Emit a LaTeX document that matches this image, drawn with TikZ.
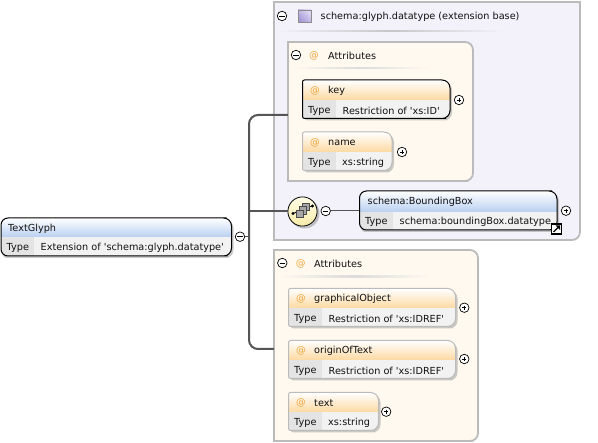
\documentclass[tikz,border=0pt]{standalone}
\usepackage{fontspec}
\setmainfont{DejaVu Sans}[Ligatures=TeXOff]
\usetikzlibrary{calc}
\definecolor{grpborder}{HTML}{BBBBBB}
\definecolor{extfill}{HTML}{F3F1FA}
\definecolor{attfill}{HTML}{FFF9F0}
\definecolor{orangehead}{HTML}{FDD9A2}
\definecolor{bluehead}{HTML}{B9D0F1}
\definecolor{typecell}{HTML}{E4E4E4}
\definecolor{linkgray}{HTML}{555555}
\definecolor{atsign}{HTML}{EFA53A}
\definecolor{txt}{HTML}{111111}
\definecolor{seqtop}{HTML}{FFFDE6}
\definecolor{seqbot}{HTML}{F7EBA8}
\definecolor{icontop}{HTML}{DDD7F2}
\definecolor{iconbot}{HTML}{A597D6}
\tikzset{
  lbl/.style={font=\fontsize{9.7}{12}\selectfont,text=txt,inner sep=0pt,anchor=west,yshift=-1pt},
  atmark/.style={font=\fontsize{9.7}{12}\selectfont,text=atsign,inner sep=0pt,yshift=-.5pt},
  conn/.style={draw=linkgray,line width=2pt,rounded corners=9pt},
  thinconn/.style={draw=linkgray,line width=1pt},
  togglebox/.style={circle,draw=black,fill=white,line width=.7pt,minimum size=9.5pt,inner sep=0pt},
  groupbox/.style={draw=grpborder,line width=1.8pt},
  anchorbox/.style={inner sep=0pt,minimum size=0pt}
}
\newcommand{\minusbtn}[3]{%
  \node[togglebox] (#1) at (#2,#3) {};
  \draw[black,line width=.7pt] ($(#1)+(-2.6,0)$) -- ($(#1)+(2.6,0)$);}
\newcommand{\plusbtn}[3]{%
  \node[togglebox] (#1) at (#2,#3) {};
  \draw[black,line width=.7pt] ($(#1)+(-2,0)$) -- ($(#1)+(2,0)$) ($(#1)+(0,-2)$) -- ($(#1)+(0,2)$);}
\newcommand{\boxpath}[5]{[rounded corners=#5] (#1,{(#3+#4)/2}) -- (#1,#3) -- ({#2-12},#3) [rounded corners=8] -- (#2,#3) -- (#2,#4) -- ({#2-12},#4) [rounded corners=#5] -- (#1,#4) -- cycle}
\newcommand{\compbox}[9]{%
  \fill[black!45,opacity=.45] \boxpath{#2+2}{#3+2}{#4+2}{#6+2}{3};
  \begin{scope}
    \clip \boxpath{#2}{#3}{#4}{#6}{\leftr};
    \shade[top color=white,bottom color=#8] (#2,#4) rectangle (#3,#5);
    \fill[white!95!black] (#2,#5) rectangle (#3,#6);
    \fill[typecell] (#2,#5) rectangle (#7,#6);
  \end{scope}
  \draw[#9,line width=1pt] \boxpath{#2}{#3}{#4}{#6}{\leftr};
  \node[anchorbox,minimum width={(#3-(#2))*1pt},minimum height={(#6-(#4))*1pt}] (#1) at ({(#2+#3)/2},{(#4+#6)/2}) {};
}
\def\leftr{2}
\begin{document}
\begin{tikzpicture}[x=1pt,y=-1pt]
\useasboundingbox[fill=white] (0,0) rectangle (598,443);
% extension group
\draw[groupbox,fill=extfill] (274,2) -- (580,2) -- (580,{232}) [rounded corners=8] -- (580,240) -- (560,240) [sharp corners] -- (274,240) -- cycle;
\node[anchorbox,minimum width=306pt,minimum height=238pt] (extgroup) at (427,121) {};
\shade[left color=extfill,right color=extfill,middle color=black!22] (276,30.4) rectangle (505,32);
\minusbtn{extminus}{282}{16}
\fill[iconbot] (298,10) rectangle (311,22.5);
\shade[top color=icontop,bottom color=iconbot,draw=black!45,line width=.6pt,shading angle=-45] (298,10) rectangle (311,22.5);
\node[anchorbox,minimum size=12pt] (exticon) at (304.5,16.2) {};
\node[lbl] (exttitle) at (320.5,16) {schema:glyph.datatype (extension base)};
% attributes group 1
\draw[groupbox,fill=attfill] (288,42) -- (460,42) [rounded corners=8] -- (473,42) -- (473,181) -- (460,181) [sharp corners] -- (288,181) -- cycle;
\node[anchorbox,minimum width=185pt,minimum height=139pt] (attgroupa) at (380.5,111.5) {};
\shade[left color=attfill,right color=attfill,middle color=black!14] (291,67.5) rectangle (430,69);
\minusbtn{attaminus}{296}{55}
\node[atmark] (attaat) at (314,55.5) {@};
\node[lbl] (attatitle) at (328,55) {Attributes};
% key
\compbox{key}{302.5}{450}{80}{100}{118.5}{336}{orangehead}{black}
\node[atmark] (keyat) at (315,90.5) {@};
\node[lbl] (keyname) at (328,90) {key};
\node[lbl] (keytype) at (308,110) {Type};
\node[lbl] (keyval) at (342.5,110) {Restriction of 'xs:ID'};
\plusbtn{keyplus}{459}{100}
% name
\compbox{nameb}{302.5}{392}{132}{152}{170.5}{336}{orangehead}{grpborder}
\node[atmark] (nameat) at (315,142.5) {@};
\node[lbl] (namename) at (328,142) {name};
\node[lbl] (nametype) at (308,162) {Type};
\node[lbl] (nameval) at (342,162) {xs:string};
\plusbtn{nameplus}{402}{152}
% sequence compositor
\fill[black!45,opacity=.5] (304.5,213.5) circle (15);
\shade[top color=seqtop,bottom color=seqbot,draw=black,line width=.8pt] (302.5,211.5) circle (14.6);
\node[anchorbox,minimum size=29pt,circle] (seq) at (302.5,211.5) {};
\draw[black,line width=.8pt] (293,213.5) -- (312,206);
\fill[black] (293,213.5) circle (1.6) (312.5,206) circle (1.6);
\draw[draw=black!70,fill=black!35,line width=.6pt] (302,203) rectangle (309.5,210.5);
\draw[draw=black!70,fill=black!35,line width=.6pt] (299,206.5) rectangle (306.5,214);
\draw[draw=black!70,fill=black!35,line width=.6pt] (296,210) rectangle (303.5,217.5);
\minusbtn{seqminus}{325.7}{211}
% bounding box
\def\leftr{7}
\compbox{bbox}{359.5}{557}{191}{212}{230}{393}{bluehead}{black}
\def\leftr{2}
\node[lbl] (bboxname) at (367.5,201) {schema:BoundingBox};
\node[lbl] (bboxtype) at (365,221) {Type};
\node[lbl] (bboxval) at (399.5,221) {schema:boundingBox.datatype};
\plusbtn{bboxplus}{566}{210.7}
\node[draw=black,fill=white,line width=1.1pt,minimum size=10pt,inner sep=0pt] (bboxlink) at (556.5,229) {};
\draw[black,line width=1.4pt] (553.5,232) -- (558.5,227);
\fill[black] (555.5,225.5) -- (560,225.5) -- (560,230) -- cycle;
% attributes group 2
\draw[groupbox,fill=attfill] (274,250) -- (465,250) [rounded corners=8] -- (478,250) -- (478,441) -- (465,441) [sharp corners] -- (274,441) -- cycle;
\node[anchorbox,minimum width=204pt,minimum height=191pt] (attgroupb) at (376,345.5) {};
\shade[left color=attfill,right color=attfill,middle color=black!14] (278,276) rectangle (430,277.5);
\minusbtn{attbminus}{282.3}{263}
\node[atmark] (attbat) at (300.7,263.5) {@};
\node[lbl] (attbtitle) at (314,263) {Attributes};
% graphicalObject
\compbox{gobj}{288.5}{455.5}{288.5}{308}{326.5}{322}{orangehead}{grpborder}
\node[atmark] (gobjat) at (301,298.5) {@};
\node[lbl] (gobjname) at (314,298) {graphicalObject};
\node[lbl] (gobjtype) at (294,318) {Type};
\node[lbl] (gobjval) at (328.5,318) {Restriction of 'xs:IDREF'};
\plusbtn{gobjplus}{464.3}{307.7}
% originOfText
\compbox{orig}{288.5}{455.5}{340.5}{360}{378.5}{322}{orangehead}{grpborder}
\node[atmark] (origat) at (301,350.5) {@};
\node[lbl] (origname) at (314,350) {originOfText};
\node[lbl] (origtype) at (294,370) {Type};
\node[lbl] (origval) at (328.5,370) {Restriction of 'xs:IDREF'};
\plusbtn{origplus}{464.3}{359}
% text
\compbox{textb}{288.5}{378.5}{392.5}{412}{430.5}{322}{orangehead}{grpborder}
\node[atmark] (textat) at (301,402.5) {@};
\node[lbl] (textname) at (314,402) {text};
\node[lbl] (texttype) at (294,422) {Type};
\node[lbl] (textval) at (328,422) {xs:string};
\plusbtn{textplus}{386.2}{411.7}
% root
\def\leftr{7}
\compbox{root}{1}{231.5}{218}{237}{256}{34}{bluehead}{black}
\def\leftr{2}
\node[lbl] (rootname) at (8,227.5) {TextGlyph};
\node[lbl] (roottype) at (6.5,247) {Type};
\node[lbl] (rootval) at (40.5,247) {Extension of 'schema:glyph.datatype'};
\minusbtn{rootminus}{240}{236.7}
% connectors
\coordinate (trunk) at (249,236.7);
\draw[thinconn] (rootminus) -- (trunk);
\draw[conn] (attgroupa.west |- 0,115) -- (trunk |- 0,115) -- (trunk |- 0,349) -- (attgroupb.west |- 0,349);
\draw[conn] (trunk |- seq) -- (seq);
\draw[thinconn] (seqminus) -- (bbox.west |- seqminus);
\end{tikzpicture}
\end{document}
